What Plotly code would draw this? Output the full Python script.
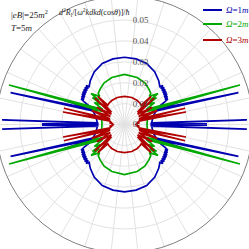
import plotly.graph_objects as go

# ---- data (first quadrant, theta in degrees from 90 down to 0; the figure is mirror-symmetric) ----
blue_theta = [90, 80, 70, 60, 52, 47,
              45.5, 44.5, 43, 42, 40.5, 39.5, 38, 37, 35.5, 34.5, 33, 32, 30.5, 29.5,
              27, 21.8, 25.5, 15.6, 23, 19, 12, 6, 3.5, 2.2, 2.7, 0.9, 0.4, 0]
blue_r = [0.0322, 0.0319, 0.0311, 0.0290, 0.0266, 0.0248,
          0.0262, 0.0244, 0.0260, 0.0241, 0.0257, 0.0238, 0.0254, 0.0235, 0.0250, 0.0231, 0.0246, 0.0228, 0.0241, 0.0223,
          0.0180, 0.0310, 0.0170, 0.0566, 0.0165, 0.0150, 0.0138, 0.0132, 0.0130, 0.0586, 0.0128, 0.0128, 0.0395, 0.0128]

green_theta = [90, 75, 64, 55, 50, 48.5, 42.7, 43.8, 40, 40.6, 35.9, 34.7, 18.9, 31, 25, 22, 15, 8, 3, 0]
green_r = [0.0240, 0.0233, 0.0222, 0.0205, 0.0195, 0.0180, 0.0218, 0.0167, 0.0200, 0.0148, 0.0178, 0.0127, 0.0584,
           0.0122, 0.0170, 0.0118, 0.0113, 0.0110, 0.0108, 0.0108]

red_theta = [90, 75, 62, 54, 49, 46.5, 43, 41.5, 38, 32, 30, 23, 21, 15, 18, 11.5, 13, 9, 6, 4, 2, 0]
red_r = [0.0135, 0.0134, 0.0130, 0.0126, 0.0122, 0.0185, 0.0085, 0.0190, 0.0080, 0.0156, 0.0078, 0.0170, 0.0075,
         0.0300, 0.0072, 0.0300, 0.0070, 0.0065, 0.0072, 0.0055, 0.0062, 0.0050]

series_names = ["Ω=1m", "Ω=2m", "Ω=3m"]
series_colors = ["#0000b0", "#00a800", "#b00000"]
radial_ticks = [0, 0.01, 0.02, 0.03, 0.04, 0.05]
radial_ticktext = ["0", "0.01", "0.02", "0.03", "0.04", "0.05"]

FIG = 257   # figure is slightly larger than the window; it is shifted by OFF px so the plot centre sits at 124.5
OFF = 4


def full_curve(th, r):
    n_th = [-t for t in reversed(th)]
    n_r = list(reversed(r))
    t3 = [180 + t for t in th]
    t4 = [180 - t for t in reversed(th)]
    return th + n_th + t3 + t4, r + n_r + r + n_r


fig = go.Figure()
for (th, rr), name, col in zip([(blue_theta, blue_r), (green_theta, green_r), (red_theta, red_r)],
                               series_names, series_colors):
    T, R = full_curve(th, rr)
    fig.add_trace(go.Scatterpolar(theta=T, r=R, mode="lines", name=name, hoverinfo="skip",
                                  line=dict(color=col, width=1.7), showlegend=False))

fig.update_layout(
    width=FIG, height=FIG,
    margin=dict(l=0, r=0, t=0, b=0),
    paper_bgcolor="white",
    font=dict(family="Liberation Serif", size=9, color="#333"),
    polar=dict(
        domain=dict(x=[0, 1], y=[0, 1]),
        bgcolor="white",
        radialaxis=dict(range=[0, 0.0615], angle=90, tickvals=radial_ticks, ticktext=radial_ticktext,
                        showline=False, ticks="outside", ticklen=6, tickcolor="rgba(0,0,0,0)",
                        gridcolor="#e2e2e2", gridwidth=1, tickangle=90,
                        tickfont=dict(family="Liberation Serif", size=9, color="#555"), side="clockwise"),
        angularaxis=dict(tickmode="linear", tick0=0, dtick=12, showticklabels=False, ticks="",
                         gridcolor="#e2e2e2", gridwidth=1, linecolor="#808080", linewidth=1,
                         rotation=0, direction="counterclockwise"),
    ),
)


def px_x(v):
    return (v + OFF) / FIG


def px_y(v):
    return 1 - (v + OFF) / FIG


fig.add_annotation(x=px_x(9), y=px_y(14), xref="paper", yref="paper", showarrow=False, xanchor="left",
                   yanchor="middle", text="|<i>eB</i>|=25<i>m</i><sup>2</sup>",
                   font=dict(family="Liberation Serif", size=9, color="#222"))
fig.add_annotation(x=px_x(9), y=px_y(28), xref="paper", yref="paper", showarrow=False, xanchor="left",
                   yanchor="middle", text="<i>T</i>=5<i>m</i>",
                   font=dict(family="Liberation Serif", size=9, color="#222"))
fig.add_annotation(x=px_x(57), y=px_y(12), xref="paper", yref="paper", showarrow=False, xanchor="left",
                   yanchor="middle",
                   text="<i>d</i><sup>2</sup><i>R</i><sub>l</sub>/[<i>ω</i><sup>2</sup><i>kdkd</i>(cos<i>θ</i>)]/<i>ħ</i>",
                   font=dict(family="Liberation Serif", size=8, color="#222"))

legend_y = [10, 24, 40]
for name, col, yy in zip(series_names, series_colors, legend_y):
    fig.add_shape(type="line", xref="paper", yref="paper", x0=px_x(203), x1=px_x(222), y0=px_y(yy), y1=px_y(yy),
                  line=dict(color=col, width=2))
    fig.add_annotation(x=px_x(224), y=px_y(yy), xref="paper", yref="paper", showarrow=False, xanchor="left",
                       yanchor="middle", text="<i>Ω</i>=" + name[2] + "<i>m</i>",
                       font=dict(family="Liberation Serif", size=9, color=col))

fig.write_html("out.html", config={"displayModeBar": False, "staticPlot": True},
               post_script="document.body.style.margin='-%dpx';document.body.style.overflow='hidden';"
                           "document.documentElement.style.overflow='hidden';" % OFF)
